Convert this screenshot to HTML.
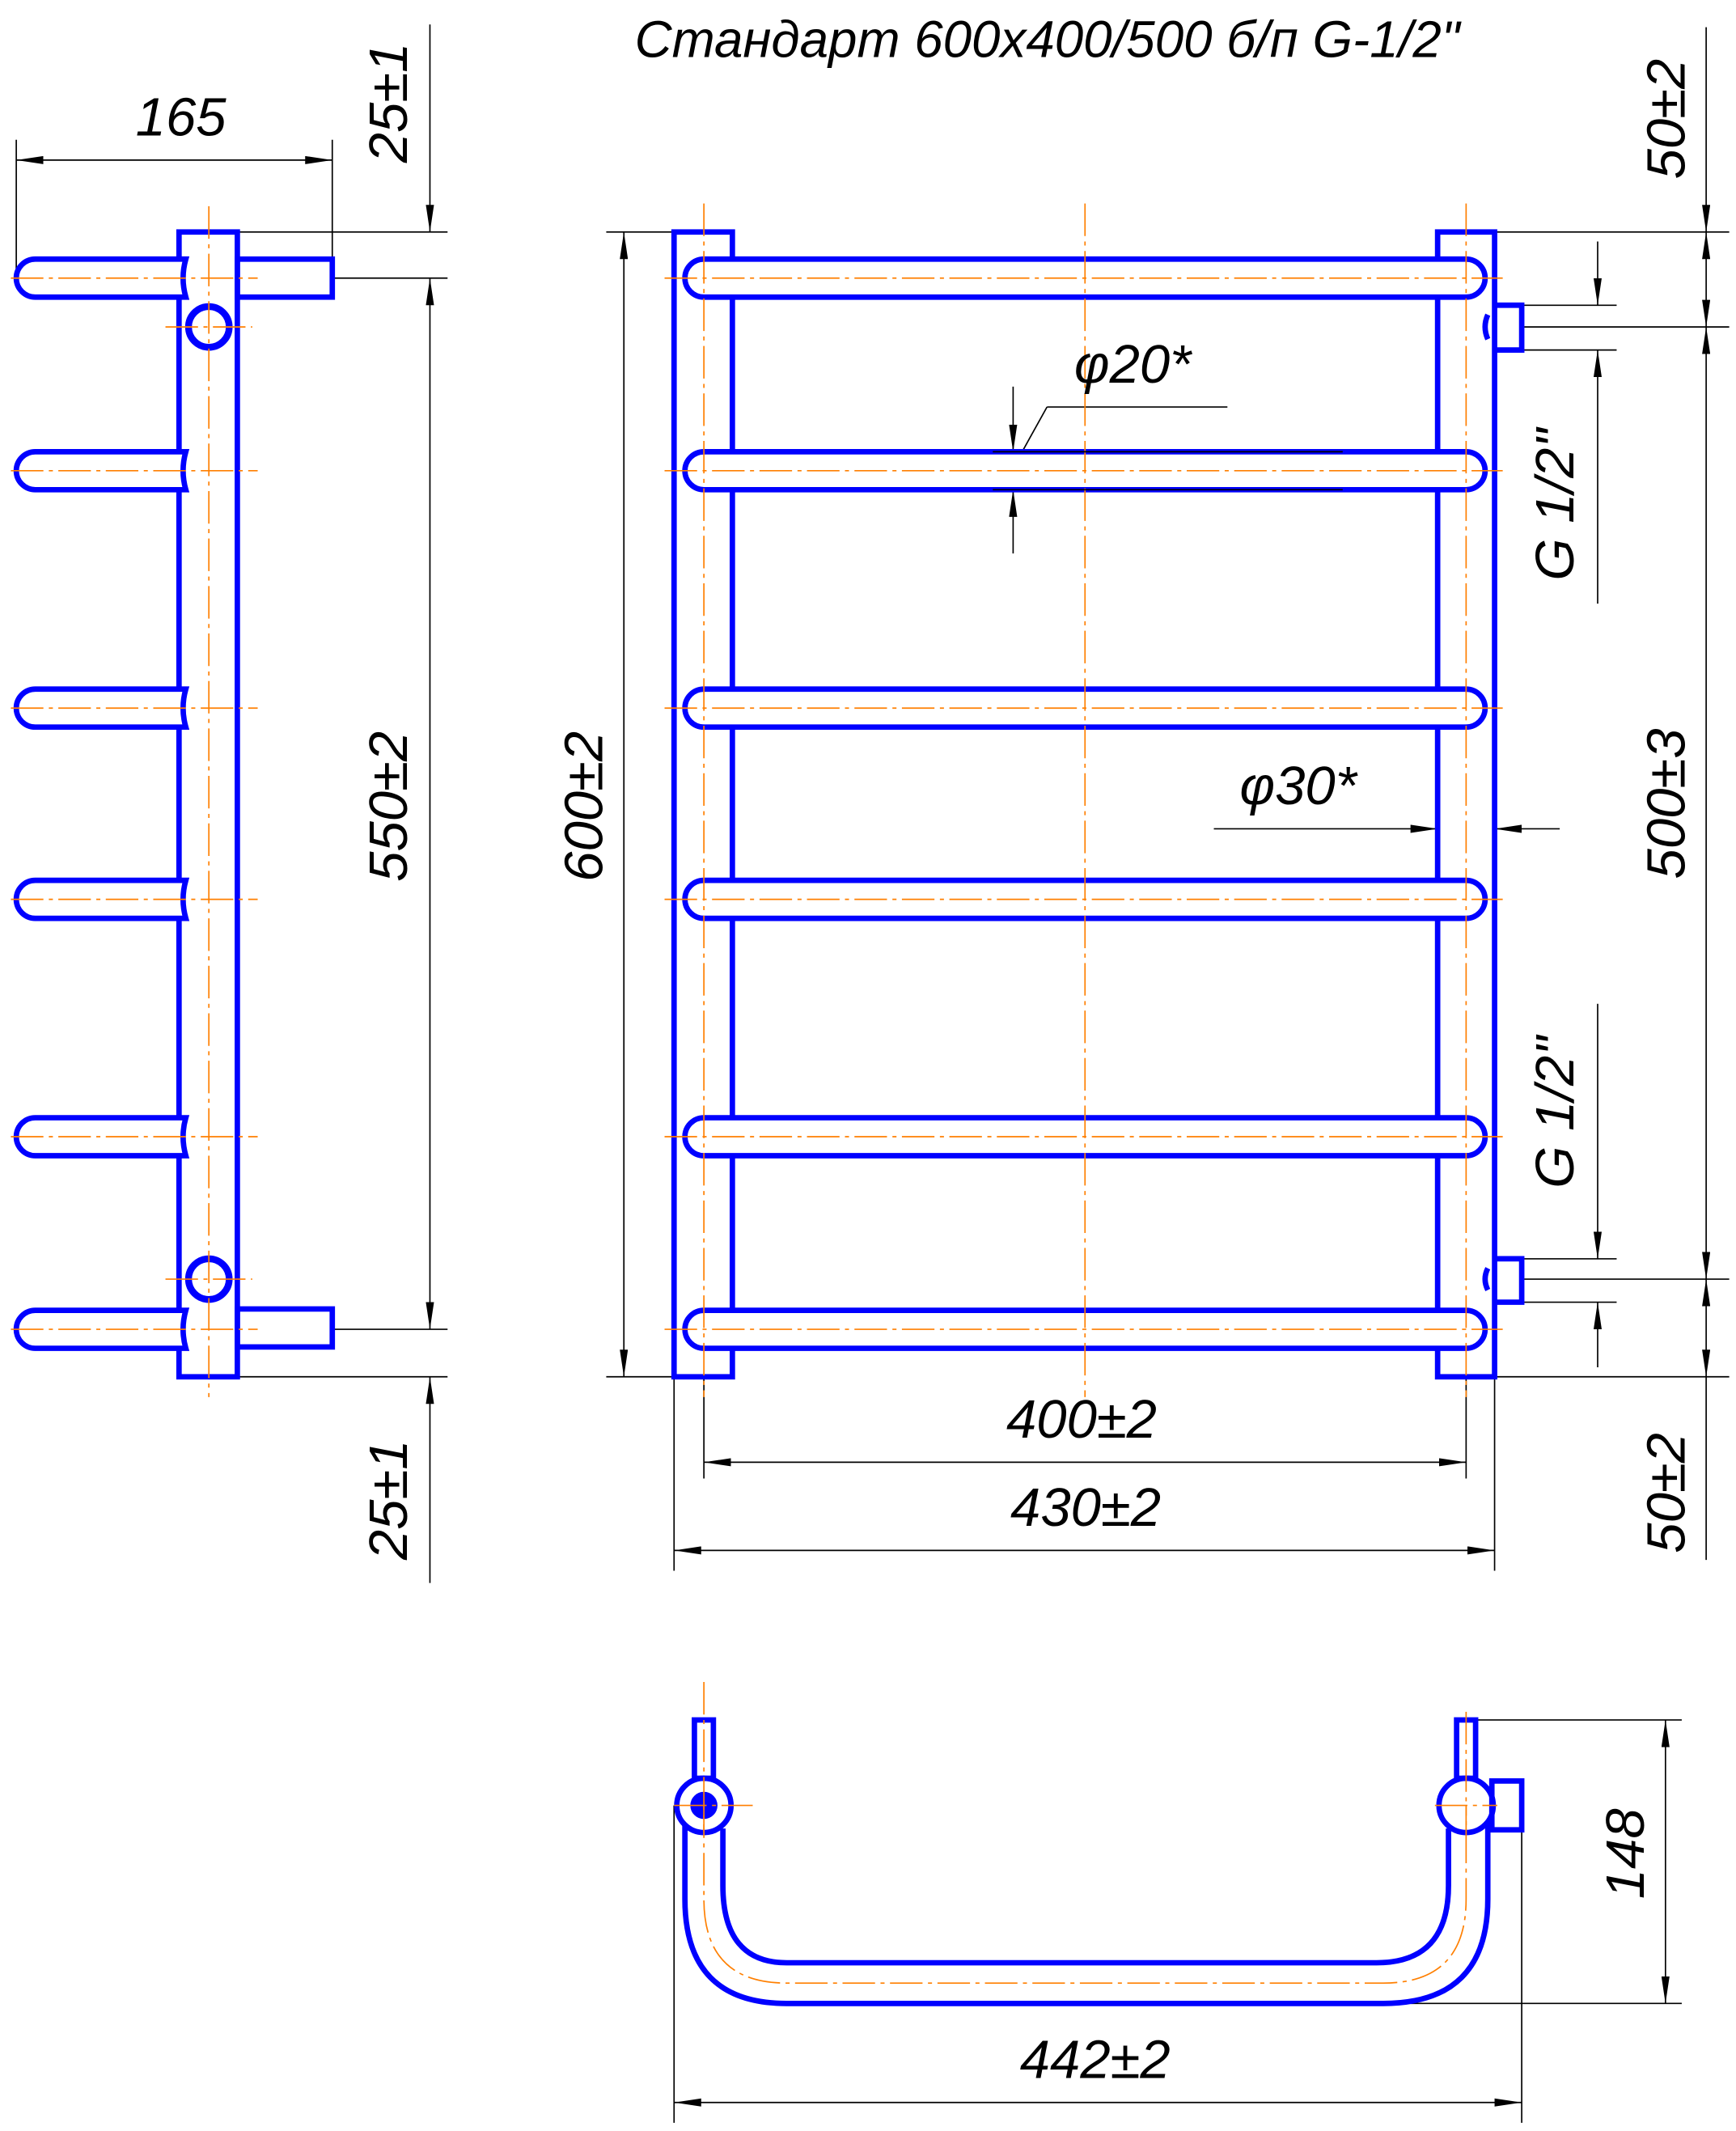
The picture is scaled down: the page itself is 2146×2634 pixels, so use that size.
<!DOCTYPE html>
<html><head><meta charset="utf-8"><style>
html,body{margin:0;padding:0;background:#fff;}
svg{display:block}
text{font-family:"Liberation Sans",sans-serif;font-style:italic;fill:#000}
</style></head><body>
<svg width="2146" height="2634" viewBox="0 0 1280 1571" xmlns="http://www.w3.org/2000/svg">
<defs>
<marker id="a" viewBox="0 0 20 6" refX="20" refY="3" markerWidth="20" markerHeight="6" orient="auto-start-reverse" markerUnits="userSpaceOnUse"><path d="M0,0L20,3L0,6z" fill="#000"/></marker>
</defs>
<g fill="none" stroke="#000" stroke-width="1">
<line x1="12" y1="103" x2="12" y2="205"/><line x1="245" y1="103" x2="245" y2="205"/>
<line x1="12" y1="118" x2="245" y2="118" marker-start="url(#a)" marker-end="url(#a)"/>
<line x1="175" y1="171" x2="330" y2="171"/><line x1="245" y1="205" x2="330" y2="205"/>
<line x1="245" y1="980" x2="330" y2="980"/><line x1="175" y1="1015" x2="330" y2="1015"/>
<line x1="317" y1="18" x2="317" y2="171" marker-end="url(#a)"/>
<line x1="317" y1="205" x2="317" y2="980" marker-start="url(#a)" marker-end="url(#a)"/>
<line x1="317" y1="1015" x2="317" y2="1167" marker-start="url(#a)"/>
<line x1="447" y1="171" x2="497" y2="171"/><line x1="447" y1="1015" x2="497" y2="1015"/>
<line x1="460" y1="171" x2="460" y2="1015" marker-start="url(#a)" marker-end="url(#a)"/>
<line x1="519" y1="1015" x2="519" y2="1090"/><line x1="1081" y1="1015" x2="1081" y2="1090"/>
<line x1="519" y1="1078" x2="1081" y2="1078" marker-start="url(#a)" marker-end="url(#a)"/>
<line x1="497" y1="1015" x2="497" y2="1158"/><line x1="1102" y1="1015" x2="1102" y2="1158"/>
<line x1="497" y1="1143" x2="1102" y2="1143" marker-start="url(#a)" marker-end="url(#a)"/>
<line x1="1102" y1="171" x2="1275" y2="171"/><line x1="1122" y1="241" x2="1275" y2="241"/>
<line x1="1122" y1="943" x2="1275" y2="943"/><line x1="1102" y1="1015" x2="1275" y2="1015"/>
<line x1="1258" y1="20" x2="1258" y2="171" marker-end="url(#a)"/>
<line x1="1258" y1="171" x2="1258" y2="241" marker-start="url(#a)" marker-end="url(#a)"/>
<line x1="1258" y1="241" x2="1258" y2="943" marker-start="url(#a)" marker-end="url(#a)"/>
<line x1="1258" y1="943" x2="1258" y2="1015" marker-start="url(#a)" marker-end="url(#a)"/>
<line x1="1258" y1="1015" x2="1258" y2="1150"/>
<line x1="1122" y1="225" x2="1192" y2="225"/><line x1="1122" y1="258" x2="1192" y2="258"/>
<line x1="1178" y1="178" x2="1178" y2="225" marker-end="url(#a)"/>
<line x1="1178" y1="258" x2="1178" y2="445" marker-start="url(#a)"/>
<line x1="1122" y1="928" x2="1192" y2="928"/><line x1="1122" y1="960" x2="1192" y2="960"/>
<line x1="1178" y1="740" x2="1178" y2="928" marker-end="url(#a)"/>
<line x1="1178" y1="960" x2="1178" y2="1008" marker-start="url(#a)"/>
<line x1="747" y1="285" x2="747" y2="333" marker-end="url(#a)"/>
<line x1="747" y1="361" x2="747" y2="408" marker-start="url(#a)"/>
<line x1="747" y1="345" x2="772" y2="300"/><line x1="772" y1="300" x2="905" y2="300"/>
<line x1="895" y1="611" x2="1060" y2="611" marker-end="url(#a)"/>
<line x1="1150" y1="611" x2="1102" y2="611" marker-end="url(#a)"/>
<line x1="1088" y1="1268" x2="1240" y2="1268"/><line x1="1040" y1="1477" x2="1240" y2="1477"/>
<line x1="1228" y1="1268" x2="1228" y2="1477" marker-start="url(#a)" marker-end="url(#a)"/>
<line x1="497" y1="1331" x2="497" y2="1565"/><line x1="1122" y1="1349" x2="1122" y2="1565"/>
<line x1="497" y1="1550" x2="1122" y2="1550" marker-start="url(#a)" marker-end="url(#a)"/>
</g>
<g stroke="#0000ff" stroke-width="4" fill="none">
<rect x="132" y="171" width="43" height="844"/>
<path d="M137,191 H26 A14,14 0 0 0 26,219 H137 Q133,205 137,191z" fill="#fff"/>
<path d="M137,333 H26 A14,14 0 0 0 26,361 H137 Q133,347 137,333z" fill="#fff"/>
<path d="M137,508 H26 A14,14 0 0 0 26,536 H137 Q133,522 137,508z" fill="#fff"/>
<path d="M137,649 H26 A14,14 0 0 0 26,677 H137 Q133,663 137,649z" fill="#fff"/>
<path d="M137,824 H26 A14,14 0 0 0 26,852 H137 Q133,838 137,824z" fill="#fff"/>
<path d="M137,966 H26 A14,14 0 0 0 26,994 H137 Q133,980 137,966z" fill="#fff"/>
<rect x="175" y="191" width="70" height="28"/><rect x="175" y="965" width="70" height="28"/>
<circle cx="154" cy="241" r="15" stroke-width="5"/><circle cx="154" cy="943" r="15" stroke-width="5"/>
<rect x="497" y="171" width="43" height="844"/><rect x="1060" y="171" width="42" height="844"/>
<g fill="#fff">
<rect x="505" y="191" width="590" height="28" rx="14"/><rect x="505" y="333" width="590" height="28" rx="14"/>
<rect x="505" y="508" width="590" height="28" rx="14"/><rect x="505" y="649" width="590" height="28" rx="14"/>
<rect x="505" y="824" width="590" height="28" rx="14"/><rect x="505" y="966" width="590" height="28" rx="14"/>
</g>
<path d="M1102,225 H1122 V258 H1102"/><path d="M1102,928 H1122 V960 H1102"/>
<path d="M1097,232 Q1093,241 1097,250"/><path d="M1097,935 Q1093,943 1097,951"/>
<path d="M505,1345 V1400 Q505,1477 580,1477 H1020 Q1097,1477 1097,1400 V1345"/>
<path d="M533,1348 V1390 Q533,1447 580,1447 H1015 Q1068,1447 1068,1390 V1348"/>
<circle cx="519" cy="1331" r="20"/><circle cx="519" cy="1331" r="8" fill="#0000ff"/>
<circle cx="1081" cy="1331" r="20"/>
<rect x="512" y="1268" width="14" height="43"/><rect x="1074" y="1268" width="14" height="43"/>
<rect x="1100" y="1313" width="22" height="36"/>
</g>
<g stroke="#ff7f00" stroke-width="1" stroke-dasharray="24,4,3,4" fill="none">
<line x1="154" y1="152" x2="154" y2="1030"/>
<line x1="8" y1="205" x2="190" y2="205"/><line x1="8" y1="347" x2="190" y2="347"/>
<line x1="8" y1="522" x2="190" y2="522"/><line x1="8" y1="663" x2="190" y2="663"/>
<line x1="8" y1="838" x2="190" y2="838"/><line x1="8" y1="980" x2="190" y2="980"/>
<line x1="122" y1="241" x2="186" y2="241"/><line x1="122" y1="943" x2="186" y2="943"/>
<line x1="519" y1="150" x2="519" y2="1030"/><line x1="1081" y1="150" x2="1081" y2="1030"/>
<line x1="800" y1="150" x2="800" y2="1030"/>
<line x1="490" y1="205" x2="1108" y2="205"/><line x1="490" y1="347" x2="1108" y2="347"/>
<line x1="490" y1="522" x2="1108" y2="522"/><line x1="490" y1="663" x2="1108" y2="663"/>
<line x1="490" y1="838" x2="1108" y2="838"/><line x1="490" y1="980" x2="1108" y2="980"/>
<line x1="519" y1="1240" x2="519" y2="1350"/><line x1="497" y1="1331" x2="555" y2="1331"/>
<line x1="1081" y1="1262" x2="1081" y2="1350"/><line x1="1058" y1="1331" x2="1104" y2="1331"/>
<path d="M519,1331 V1400 Q519,1462 580,1462 H1020 Q1081,1462 1081,1400 V1331"/>
</g>
<g fill="none" stroke="#000" stroke-width="1">
<line x1="732" y1="333" x2="990" y2="333"/><line x1="732" y1="361" x2="990" y2="361"/>
</g>
<g font-size="40">
<text x="468" y="42" font-size="38">Стандарт 600х400/500 б/п  G-1/2"</text>
<text x="100" y="100">165</text>
<text transform="translate(300,120) rotate(-90)">25±1</text>
<text transform="translate(300,650) rotate(-90)">550±2</text>
<text transform="translate(300,1150) rotate(-90)">25±1</text>
<text transform="translate(444,650) rotate(-90)">600±2</text>
<text x="742" y="1060">400±2</text>
<text x="745" y="1125">430±2</text>
<text x="792" y="282">φ20*</text>
<text x="914" y="593">φ30*</text>
<text transform="translate(1242,132) rotate(-90)">50±2</text>
<text transform="translate(1242,648) rotate(-90)">500±3</text>
<text transform="translate(1242,1145) rotate(-90)">50±2</text>
<text transform="translate(1160,428) rotate(-90)">G 1/2"</text>
<text transform="translate(1160,876) rotate(-90)">G 1/2"</text>
<text transform="translate(1212,1400) rotate(-90)">148</text>
<text x="752" y="1532">442±2</text>
</g>
</svg>
</body></html>
